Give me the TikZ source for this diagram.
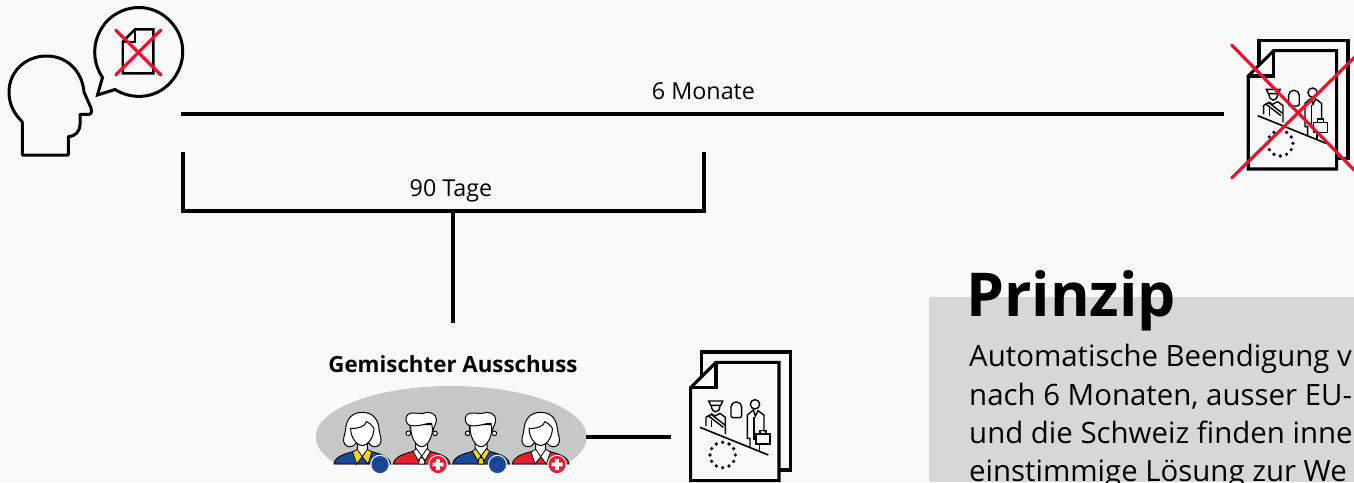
\documentclass[tikz,border=0pt]{standalone}
\usepackage{fontspec}
\usetikzlibrary{calc}
\setmainfont{Open Sans}
\definecolor{bgc}{HTML}{F9F9F9}
\definecolor{panelc}{HTML}{D6D7D9}
\definecolor{ovalc}{HTML}{C6C7C7}
\definecolor{xred}{HTML}{E3162D}
\definecolor{eublue}{HTML}{1B4A9B}
\definecolor{chred}{HTML}{E2202E}
\definecolor{eugold}{HTML}{F7D417}
\newcommand{\docicon}[2]{%
\begin{scope}[shift={(#1pt,-#2pt)},x=0.33333pt,y=-0.33333pt,line join=miter]
\draw[line width=3.1pt] (94,110) -- (94,36) -- (361,36) -- (361,390) -- (327,390);
\draw[line width=3.1pt,fill=bgc] (62,143) -- (138,67) -- (327,67) -- (327,422) -- (62,422) -- cycle;
\draw[line width=3.1pt] (138,67) -- (138,143) -- (62,143);
\draw[line width=1.6pt] (90,262) -- (295,345);
\draw[line width=1.4pt] (108,258) -- (108,232) -- (125,222) -- (135,228) -- (150,220) -- (166,232) -- (166,282);
\draw[line width=1.4pt] (113,226) -- (160,262) (122,222) -- (166,256);
\draw[line width=1.4pt] (125,262) -- (125,240);
\draw[line width=1.4pt,fill=bgc] (116,183) -- (158,183) -- (152,196) -- (122,196) -- cycle;
\draw[line width=1.4pt] (124,196) .. controls (124,222) and (150,222) .. (150,196);
\draw[line width=1.4pt,rounded corners=2pt] (183,233) -- (183,195) -- (192,186) -- (206,186) -- (215,195) -- (215,233) -- cycle;
\draw[line width=1.4pt] (255,193) circle[radius=14];
\draw[line width=1.4pt] (240,322) -- (240,295) -- (232,295) -- (232,225) -- (250,210) -- (256,228) -- (264,212) -- (282,225) -- (282,275);
\draw[line width=1.4pt] (252,230) -- (252,300) (268,312) -- (268,332);
\draw[line width=1.4pt,fill=bgc] (258,282) rectangle (300,312);
\draw[line width=1.4pt] (270,282) -- (270,272) -- (288,272) -- (288,282);
\foreach \a in {0,30,...,330} \fill ($(158,345)+(\a:38)$) circle[radius=5.5];
\end{scope}}
\newcommand{\shirtshape}[1]{%
\draw[line width=.9pt,fill=#1] (-85,0) .. controls (-82,-22) and (-55,-30) .. (-25,-38) -- (25,-38) .. controls (55,-30) and (82,-22) .. (85,0) -- cycle;}
\newcommand{\womanicon}[3]{%
\begin{scope}[shift={(#1pt,-464pt)},x=0.33333pt,y=-0.33333pt]
\shirtshape{#2}
\draw[line width=1pt,fill=white] (0,-155) .. controls (-35,-155) and (-48,-130) .. (-50,-105) .. controls (-52,-85) and (-62,-72) .. (-52,-58) .. controls (-42,-48) and (-28,-50) .. (-20,-62) -- (20,-62) .. controls (28,-50) and (42,-48) .. (52,-58) .. controls (62,-72) and (52,-85) .. (50,-105) .. controls (48,-130) and (35,-155) .. (0,-155) -- cycle;
\draw[line width=1pt,fill=white] (-15,-62) -- (-15,-35) -- (0,-22) -- (15,-35) -- (15,-62);
\draw[line width=1pt,fill=white] (-35,-107) .. controls (-35,-78) and (-15,-55) .. (0,-55) .. controls (15,-55) and (35,-78) .. (35,-107) .. controls (28,-118) and (20,-124) .. (13,-127) .. controls (8,-112) and (-15,-105) .. (-35,-107) -- cycle;
\draw[line width=.8pt,fill=#3] (-29,-36) -- (-15,-44) -- (0,-22) -- (-17,0) -- cycle;
\draw[line width=.8pt,fill=#3] (29,-36) -- (15,-44) -- (0,-22) -- (17,0) -- cycle;
\end{scope}}
\newcommand{\manicon}[3]{%
\begin{scope}[shift={(#1pt,-464pt)},x=0.33333pt,y=-0.33333pt]
\shirtshape{#2}
\draw[line width=1pt,fill=white] (-40,-92) circle[radius=7] (40,-92) circle[radius=7];
\draw[line width=1pt,fill=white] (-18,-62) -- (-18,-35) -- (0,-18) -- (18,-35) -- (18,-62);
\draw[line width=1pt,fill=white] (-33,-118) .. controls (-35,-78) and (-15,-52) .. (0,-52) .. controls (15,-52) and (35,-78) .. (33,-118) -- cycle;
\draw[line width=1pt,fill=white,line join=round] (-34,-98) -- (-35,-115) .. controls (-48,-120) and (-52,-140) .. (-42,-148) .. controls (-32,-158) and (-12,-150) .. (5,-152) .. controls (25,-160) and (45,-150) .. (44,-132) .. controls (43,-118) and (36,-112) .. (33,-98) -- (30,-122) .. controls (15,-124) and (-10,-110) .. (-34,-116);
\draw[line width=.8pt,fill=#3] (-6,-18) -- (6,-18) -- (9,0) -- (-9,0) -- cycle;
\draw[line width=.8pt,fill=#3] (-26,-38) -- (-16,-46) -- (0,-24) -- (-10,-10) -- cycle;
\draw[line width=.8pt,fill=#3] (26,-38) -- (16,-46) -- (0,-24) -- (10,-10) -- cycle;
\end{scope}}
\newcommand{\eubadge}[1]{%
\begin{scope}[shift={(#1pt,-464.5pt)},x=1pt,y=-1pt]
\fill[bgc] (0,0) circle[radius=9.8];
\fill[eublue] (0,0) circle[radius=8.6];
\draw[eublue!55!black,line width=.8pt,densely dotted] (0,0) circle[radius=5];
\end{scope}}
\newcommand{\chbadge}[1]{%
\begin{scope}[shift={(#1pt,-464.5pt)},x=1pt,y=-1pt]
\fill[bgc] (0,0) circle[radius=9.8];
\fill[chred] (0,0) circle[radius=8.6];
\fill[white] (-5.5,-1.9) rectangle (5.5,1.9) (-1.9,-5.5) rectangle (1.9,5.5);
\end{scope}}
\tikzset{
  barline/.style={line width=4pt,line cap=butt,line join=miter},
  iconline/.style={line width=3pt,line join=miter},
  redx/.style={line width=3.2pt,xred,line cap=round},
  lbl/.style={font=\fontsize{23.3}{28}\selectfont,anchor=base,inner sep=0pt},
  bodytxt/.style={font=\fontsize{29.4}{34}\selectfont,anchor=base west,inner sep=0pt}
}
\begin{document}
\begin{tikzpicture}[x=1pt,y=-1pt]
\useasboundingbox (0,0) rectangle (1354,482);
\clip (0,0) rectangle (1354,482);
\fill[bgc] (0,0) rectangle (1354,482);
% panel
\fill[panelc] (929,297) rectangle (1354,482);
% head and bubble
\draw[iconline,line join=round] (22.3,121.7) -- (22.3,155) -- (68.3,155) -- (68.3,136.7) .. controls (75,136.7) and (80,131) .. (80,125) -- (80,114.3) -- (89,114.3) .. controls (92,114.3) and (92,110) .. (91,108) -- (84,92) .. controls (82,70) and (66,56) .. (46.7,56) .. controls (25,56) and (9,72) .. (9,92) .. controls (9,104) and (14,114) .. (22.3,121.7);
\draw[iconline,line join=miter] (97.5,95) -- (102.5,77.5) .. controls (91,60) and (92,38) .. (107,21) .. controls (125,3) and (153,3) .. (170,21) .. controls (187,38) and (187,65) .. (170,83) .. controls (155,99) and (132,100) .. (115,89.5) -- cycle;
\draw[line width=2.4pt] (122.7,41.7) -- (135,29.3) -- (153.3,29.3) -- (153.3,73.3) -- (122.7,73.3) -- cycle;
\draw[line width=2.4pt] (135,29.3) -- (135,41.7) -- (122.7,41.7);
\draw[redx] (115.7,30) -- (161,75) (115.7,75) -- (161,30);
% timeline
\coordinate (headend) at (181,114);
\coordinate (docend) at (1224,114);
\draw[barline] (headend) -- (docend);
\node[lbl] (sixm) at (703.5,99) {6 Monate};
\coordinate (brl) at (183,152);
\coordinate (brr) at (704,152);
\coordinate (brlb) at (183,211);
\coordinate (brrb) at (704,211);
\draw[barline] (brl) -- (brlb) -- (brrb) -- (brr);
\coordinate (stemtop) at (452.5,211);
\node[lbl] (ninety) at (451,196) {90 Tage};
\coordinate (stemend) at (452.5,323);
\draw[barline] (stemtop) -- (stemend);
% committee
\node[lbl,font=\fontsize{22.3}{28}\bfseries\selectfont] (ga) at (453,372) {Gemischter Ausschuss};
\begin{scope}
\clip (300,380) rectangle (600,464);
\fill[ovalc] (451.3,437) ellipse[x radius=135.5,y radius=51];
\end{scope}
\coordinate (ovalr) at (586,437);
\coordinate (docl) at (671,437);
\draw[barline] (ovalr) -- (docl);
\womanicon{362.3}{eublue}{eugold}
\manicon{421.7}{chred}{white}
\manicon{481}{eublue}{eugold}
\womanicon{540.7}{chred}{white}
\eubadge{380}
\chbadge{438}
\eubadge{497.5}
\chbadge{557}
% documents
\docicon{670}{340}
\docicon{1227.6}{28.3}
\draw[redx] (1231.7,45) -- (1360,176) (1231.7,178) -- (1360,52);
% panel text
\node[font=\fontsize{60.5}{70}\bfseries\selectfont,anchor=base west,inner sep=0pt] (prinzip) at (966,316.7) {Prinzip};
\node[bodytxt] (l1) at (969,366.7) {Automatische Beendigung v};
\node[bodytxt] (l2) at (969,405) {nach 6 Monaten, ausser EU-};
\node[bodytxt] (l3) at (969,443) {und die Schweiz finden inne};
\node[bodytxt] (l4) at (969,481) {einstimmige Lösung zur We};
\end{tikzpicture}
\end{document}
